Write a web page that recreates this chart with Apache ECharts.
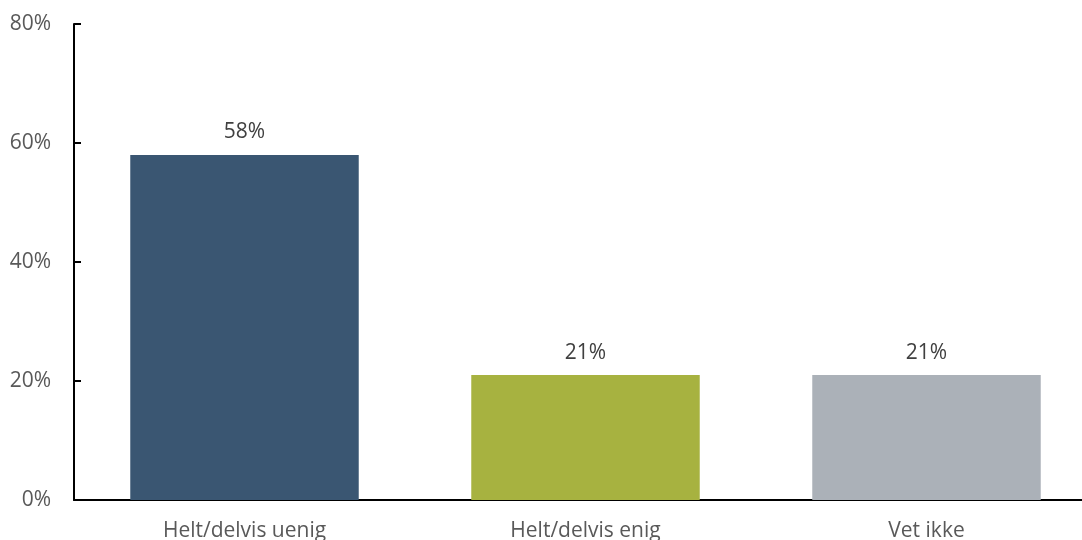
<!DOCTYPE html>
<html><head><meta charset="utf-8">
<script src="https://cdn.jsdelivr.net/npm/echarts@6/dist/echarts.min.js"></script>
<style>html,body{margin:0;padding:0;background:#fff;overflow:hidden;width:1082px;height:540px}#c{width:1097px;height:540px}</style>
</head><body><div id="c"></div>
<script>
const categories = ["Helt/delvis uenig", "Helt/delvis enig", "Vet ikke"];
const values = [58, 21, 21];
const colors = ["#3A5672", "#A7B240", "#ABB1B8"];
const yTicks = [0, 20, 40, 60, 80];

const chart = echarts.init(document.getElementById('c'), null, {renderer: 'canvas'});
chart.setOption({
  animation: false,
  grid: {left: 74, right: 0, top: 24, bottom: 40, containLabel: false, outerBoundsMode: 'none'},
  xAxis: {
    type: 'category', data: categories,
    axisLine: {lineStyle: {color: '#000', width: 2}},
    axisTick: {show: false},
    axisLabel: {color: '#595959', fontSize: 21, fontFamily: 'Open Sans', margin: 21}
  },
  yAxis: {
    type: 'value', min: yTicks[0], max: yTicks[yTicks.length - 1], interval: 20,
    axisLine: {show: true, lineStyle: {color: '#000', width: 2}},
    axisTick: {show: true, inside: true, length: 7, lineStyle: {color: '#000', width: 2}},
    splitLine: {show: false},
    axisLabel: {color: '#595959', fontSize: 21, fontFamily: 'Open Sans', margin: 23, formatter: v => v + '%'}
  },
  series: [{
    type: 'bar', barWidth: '67%',
    data: values.map((v, i) => ({value: v, itemStyle: {color: colors[i]}})),
    label: {show: true, position: 'top', distance: 12, color: '#404040', fontSize: 21, fontFamily: 'Open Sans', formatter: p => p.value + '%'}
  }]
});
</script></body></html>
